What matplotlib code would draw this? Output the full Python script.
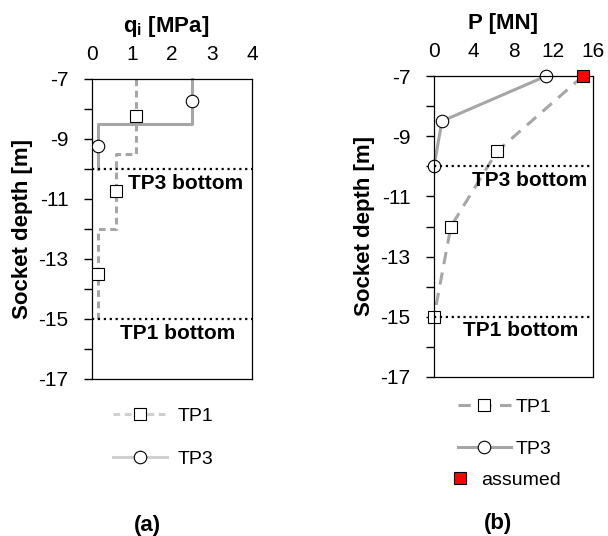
import matplotlib
matplotlib.use("Agg")
import matplotlib.pyplot as plt
from matplotlib.lines import Line2D
import numpy as np

plt.rcParams['font.family'] = ['Liberation Sans', 'DejaVu Sans']
plt.rcParams['mathtext.fontset'] = 'custom'
plt.rcParams['mathtext.rm'] = 'Liberation Sans'
plt.rcParams['mathtext.bf'] = 'Liberation Sans:bold'
plt.rcParams['mathtext.it'] = 'Liberation Sans:italic'

# ---------------- data ----------------
# (a) unit shaft resistance profiles (layers)
tp1_layer_top = [-7.0, -9.5, -12.0]
tp1_layer_bot = [-9.5, -12.0, -15.0]
tp1_q = [1.1, 0.6, 0.15]
tp3_layer_top = [-7.0, -8.5]
tp3_layer_bot = [-8.5, -10.0]
tp3_q = [2.5, 0.15]

# (b) axial load distribution
tp1_depth = [-7.0, -9.5, -12.0, -15.0]
tp1_P = [15.0, 6.35, 1.7, 0.0]
tp3_depth = [-7.0, -8.5, -10.0]
tp3_P = [11.3, 0.8, 0.0]
assumed_depth = [-7.0]
assumed_P = [15.0]

bottoms = [-10.0, -15.0]
bottom_labels = ['TP3 bottom', 'TP1 bottom']

y_ticks_major = [-7, -9, -11, -13, -15, -17]
a_xticks = [0, 1, 2, 3, 4]
b_xticks = [0, 4, 8, 12, 16]

LINE = '#a6a6a6'
LEG_A = '#d0d0d0'
FS = 15
LBL = 16

def step_path(tops, bots, vals):
    xs, ys = [], []
    for t, b, v in zip(tops, bots, vals):
        xs += [v, v]
        ys += [t, b]
    return xs, ys

fig = plt.figure(figsize=(6.08, 5.36), dpi=100)
W, H = 608, 536
axa = fig.add_axes([92 / W, 1 - 379 / H, 160 / W, 300 / H])
axb = fig.add_axes([434 / W, 1 - 377 / H, 159 / W, 301 / H])

def style(ax, xticks, xlabel, xlab_pos):
    ax.set_ylim(-17, -7)
    ax.set_xlim(xticks[0], xticks[-1])
    ax.set_yticks(y_ticks_major)
    ax.set_yticks(np.arange(-17, -6, 1), minor=True)
    ax.set_yticklabels([str(t) for t in y_ticks_major], fontsize=FS)
    ax.tick_params(axis='y', which='both', direction='out', length=6, width=1, pad=11)
    ax.xaxis.tick_top()
    ax.xaxis.set_label_position('top')
    ax.set_xticks(xticks)
    ax.set_xticklabels([str(t) for t in xticks], fontsize=FS)
    ax.tick_params(axis='x', length=0, pad=11)
    ax.set_xlabel(xlabel, fontsize=LBL, fontweight='bold', labelpad=9)
    ax.xaxis.label.set_x(xlab_pos)
    ax.set_ylabel('Socket depth [m]', fontsize=LBL, fontweight='bold', labelpad=4)
    for s in ax.spines.values():
        s.set_linewidth(0.9)
        s.set_color('black')

# ---------------- panel (a) ----------------
x1, y1 = step_path(tp1_layer_top, tp1_layer_bot, tp1_q)
x3, y3 = step_path(tp3_layer_top, tp3_layer_bot, tp3_q)
axa.plot(x1, y1, color=LINE, lw=2.2, dashes=(2.2, 1.5), zorder=2, clip_on=False)
axa.plot(x3, y3, color=LINE, lw=2.2, zorder=2, clip_on=False)
axa.plot(tp1_q, [(t + b) / 2 for t, b in zip(tp1_layer_top, tp1_layer_bot)],
         ls='none', marker='s', ms=8.5, mfc='white', mec='black', mew=0.8, zorder=3)
axa.plot(tp3_q, [(t + b) / 2 for t, b in zip(tp3_layer_top, tp3_layer_bot)],
         ls='none', marker='o', ms=9, mfc='white', mec='black', mew=0.8, zorder=3)
for d in bottoms:
    axa.axhline(d, color='black', lw=1.6, ls=':', zorder=4)
axa.text(0.9, -10.47, bottom_labels[0], fontsize=FS, fontweight='bold', va='center', ha='left')
axa.text(0.7, -15.47, bottom_labels[1], fontsize=FS, fontweight='bold', va='center', ha='left')
style(axa, a_xticks, r'$\mathbf{q_i}$ [MPa]', 0.465)

# ---------------- panel (b) ----------------
axb.plot(tp1_P, tp1_depth, color=LINE, lw=2.2, dashes=(4, 2.8), marker='s', ms=8.5,
         mfc='white', mec='black', mew=0.8, markevery=[1, 2, 3], zorder=2, clip_on=False)
axb.plot(tp3_P, tp3_depth, color=LINE, lw=2.2, marker='o', ms=9,
         mfc='white', mec='black', mew=0.8, zorder=2, clip_on=False)
axb.plot(assumed_P, assumed_depth, ls='none', marker='s', ms=8, mfc='red', mec='black',
         mew=0.8, zorder=5, clip_on=False)
for d in bottoms:
    axb.axhline(d, color='black', lw=1.6, ls=':', zorder=4)
axb.text(3.8, -10.47, bottom_labels[0], fontsize=FS, fontweight='bold', va='center', ha='left')
axb.text(2.9, -15.47, bottom_labels[1], fontsize=FS, fontweight='bold', va='center', ha='left')
style(axb, b_xticks, 'P [MN]', 0.437)

# ---------------- legends ----------------
LFS = 14
ha1 = Line2D([], [], color=LEG_A, lw=2.2, dashes=(2.2, 1.5), marker='s', ms=8.5,
             mfc='white', mec='black', mew=0.8)
ha3 = Line2D([], [], color=LEG_A, lw=2.2, marker='o', ms=9, mfc='white', mec='black', mew=0.8)
fig.legend([ha1, ha3], ['TP1', 'TP3'], loc='upper left',
           bbox_to_anchor=(113 / W, 1 - 407 / H), frameon=False, fontsize=LFS,
           handlelength=2.8, handletextpad=0.5, labelspacing=1.3,
           borderpad=0, borderaxespad=0)

hb1 = Line2D([], [], color=LINE, lw=2.2, dashes=(4, 2.8), marker='s', ms=8.5,
             mfc='white', mec='black', mew=0.8)
hb3 = Line2D([], [], color=LINE, lw=2.2, marker='o', ms=9, mfc='white', mec='black', mew=0.8)
fig.legend([hb1, hb3], ['TP1', 'TP3'], loc='upper left',
           bbox_to_anchor=(458 / W, 1 - 398 / H), frameon=False, fontsize=LFS,
           handlelength=2.7, handletextpad=0.25, labelspacing=1.26,
           borderpad=0, borderaxespad=0)
hbr = Line2D([], [], ls='none', marker='s', ms=8, mfc='red', mec='black', mew=0.8)
fig.legend([hbr], ['assumed'], loc='upper left',
           bbox_to_anchor=(452 / W, 1 - 471 / H), frameon=False, fontsize=LFS,
           handlelength=0.8, handletextpad=0.7, borderpad=0, borderaxespad=0)

fig.text(147 / W, 1 - 525 / H, '(a)', fontsize=LBL, fontweight='bold', ha='center', va='center')
fig.text(498 / W, 1 - 523 / H, '(b)', fontsize=LBL, fontweight='bold', ha='center', va='center')

fig.savefig('out.png', dpi=100)
